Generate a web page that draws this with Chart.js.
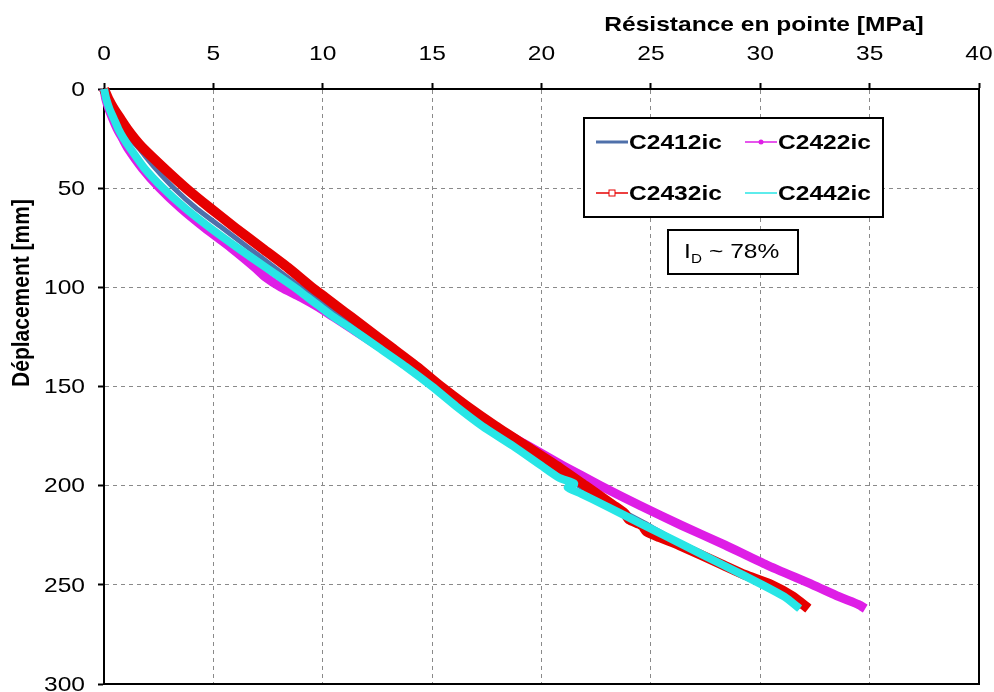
<!DOCTYPE html>
<html>
<head>
<meta charset="utf-8">
<script src="https://cdn.jsdelivr.net/npm/chart.js@4.4.1/dist/chart.umd.min.js"></script>
<style>
    html, body { margin: 0; padding: 0; background: #fff; }
    #wrap { width: 994px; height: 692px; }
</style>
</head>
<body>
<div id="wrap"><canvas id="penetro" width="994" height="692"></canvas></div>
<script>
// Déplacement [mm] / résistance en pointe [MPa]
const c2412Depth = [0, 5, 10, 15, 20, 25, 30, 40, 50, 60, 70, 80, 90, 100, 105, 110, 115, 120, 130, 140, 150, 160, 170, 180, 190, 200, 210, 220, 230, 240, 250, 256, 262];
const c2412Qc    = [0, 0.12, 0.32, 0.55, 0.85, 1.2, 1.6, 2.35, 3.2, 4.2, 5.4, 6.6, 7.8, 9.0, 9.7, 10.3, 10.9, 11.5, 12.8, 14.0, 15.2, 16.4, 17.6, 19.0, 20.4, 21.7, 23.2, 24.9, 26.5, 28.4, 30.3, 31.2, 31.8];

const c2422Depth = [0, 2, 5, 10, 15, 20, 25, 30, 40, 50, 60, 70, 80, 90, 95, 100, 105, 110, 115, 120, 130, 140, 150, 160, 170, 180, 190, 200, 210, 220, 230, 240, 250, 256, 260, 262];
const c2422Qc    = [0, 0.03, 0.08, 0.22, 0.4, 0.6, 0.85, 1.1, 1.75, 2.55, 3.5, 4.6, 5.8, 6.9, 7.4, 8.1, 9.0, 9.8, 10.5, 11.2, 12.6, 13.9, 15.1, 16.4, 17.8, 19.4, 21.0, 22.7, 24.5, 26.4, 28.4, 30.3, 32.4, 33.6, 34.5, 34.8];

const c2432Depth = [0, 2, 5, 10, 15, 20, 25, 30, 40, 50, 60, 70, 80, 90, 100, 105, 110, 115, 120, 130, 140, 150, 160, 170, 180, 190, 200, 210, 214, 217, 220, 223, 226, 230, 240, 245, 250, 256, 262];
const c2432Qc    = [0, 0.08, 0.2, 0.45, 0.75, 1.05, 1.4, 1.8, 2.75, 3.75, 4.85, 6.0, 7.2, 8.4, 9.5, 10.1, 10.7, 11.3, 11.9, 13.1, 14.3, 15.4, 16.6, 17.9, 19.3, 20.7, 22.0, 23.3, 23.8, 24.0, 24.6, 24.8, 25.4, 26.3, 28.3, 29.3, 30.5, 31.5, 32.2];

const c2442Depth = [0, 2, 5, 10, 15, 20, 25, 30, 40, 50, 60, 70, 80, 90, 100, 105, 110, 115, 120, 130, 140, 150, 160, 170, 180, 190, 196, 199, 201, 204, 210, 220, 230, 240, 250, 256, 262];
const c2442Qc    = [0, 0.04, 0.1, 0.25, 0.45, 0.65, 0.9, 1.2, 1.85, 2.7, 3.7, 4.85, 6.1, 7.4, 8.7, 9.3, 9.9, 10.5, 11.2, 12.5, 13.8, 15.0, 16.1, 17.3, 18.7, 20.0, 20.8, 21.5, 21.2, 21.8, 22.9, 24.7, 26.5, 28.3, 30.1, 31.1, 31.8];

const xTicks = [0, 5, 10, 15, 20, 25, 30, 35, 40];
const yTicks = [0, 50, 100, 150, 200, 250, 300];

const seriesNames = ["C2412ic", "C2422ic", "C2432ic", "C2442ic"];
const seriesColors = ["rgb(79, 112, 170)", "rgb(222, 30, 230)", "rgb(230, 0, 0)", "rgb(40, 230, 230)"];

const FONT = "'Liberation Sans', Arial, sans-serif";
// the original picture is stretched sideways, text included
const STRETCH = 1.17;

function toPoints(depths, qcs) {
    return depths.map((d, i) => ({ x: qcs[i], y: d }));
}

function wideText(ctx, text, x, y, align) {
    ctx.save();
    ctx.translate(x, y);
    ctx.scale(STRETCH, 1);
    ctx.textAlign = align;
    ctx.fillText(text, 0, 0);
    ctx.restore();
}

// Frame on the right and bottom, tick labels, titles, legend box and I_D label
const decorations = {
    id: "decorations",
    beforeDatasetsDraw(chart) {
        const { ctx, chartArea: a } = chart;
        ctx.save();
        ctx.strokeStyle = "#000";
        ctx.lineWidth = 2;
        ctx.beginPath();
        ctx.moveTo(a.left, a.bottom);
        ctx.lineTo(a.right, a.bottom);
        ctx.lineTo(a.right, a.top);
        ctx.stroke();
        ctx.restore();
    },
    afterDraw(chart) {
        const ctx = chart.ctx;
        const xs = chart.scales.x;
        const ys = chart.scales.y;
        ctx.save();
        ctx.fillStyle = "#000";
        ctx.textBaseline = "middle";

        // tick labels, placed with the chart's own scales
        ctx.font = "21px " + FONT;
        xTicks.forEach(v => wideText(ctx, String(v), xs.getPixelForValue(v), 54, "center"));
        yTicks.forEach(v => wideText(ctx, String(v), 85, ys.getPixelForValue(v) + 1, "right"));

        // axis titles
        ctx.font = "bold 21px " + FONT;
        wideText(ctx, "Résistance en pointe [MPa]", 764, 25, "center");

        ctx.save();
        ctx.translate(22, 293);
        ctx.rotate(-Math.PI / 2);
        ctx.scale(1, STRETCH);
        ctx.textAlign = "center";
        ctx.fillText("Déplacement [mm]", 0, 0);
        ctx.restore();

        // legend box
        ctx.fillStyle = "#fff";
        ctx.fillRect(584, 118, 299, 99);
        ctx.strokeStyle = "#000";
        ctx.lineWidth = 2;
        ctx.strokeRect(584, 118, 299, 99);

        const cells = [
            { x: 596, y: 142 }, { x: 745, y: 142 },
            { x: 596, y: 193 }, { x: 745, y: 193 }
        ];
        cells.forEach((c, i) => {
            ctx.strokeStyle = seriesColors[i];
            ctx.lineWidth = i === 0 ? 3 : 1.5;
            ctx.beginPath();
            ctx.moveTo(c.x, c.y);
            ctx.lineTo(c.x + 32, c.y);
            ctx.stroke();
            if (i === 1) {
                ctx.fillStyle = seriesColors[i];
                ctx.beginPath();
                ctx.arc(c.x + 16, c.y, 2.5, 0, Math.PI * 2);
                ctx.fill();
            }
            if (i === 2) {
                ctx.fillStyle = "#fff";
                ctx.fillRect(c.x + 13, c.y - 3, 6, 6);
                ctx.lineWidth = 1;
                ctx.strokeRect(c.x + 13, c.y - 3, 6, 6);
            }
            ctx.fillStyle = "#000";
            ctx.font = "bold 21px " + FONT;
            wideText(ctx, seriesNames[i], c.x + 33, c.y + 1, "left");
        });

        // I_D box
        ctx.fillStyle = "#fff";
        ctx.fillRect(668, 230, 130, 44);
        ctx.strokeStyle = "#000";
        ctx.lineWidth = 2;
        ctx.strokeRect(668, 230, 130, 44);
        ctx.fillStyle = "#000";
        ctx.font = "21px " + FONT;
        wideText(ctx, "I", 684, 252, "left");
        ctx.font = "13px " + FONT;
        wideText(ctx, "D", 691, 259, "left");
        ctx.font = "21px " + FONT;
        wideText(ctx, "~ 78%", 709, 252, "left");

        ctx.restore();
    }
};

const ctx = document.getElementById("penetro").getContext("2d");

new Chart(ctx, {
    type: "scatter",
    data: {
        datasets: [
            {
                label: seriesNames[0],
                data: toPoints(c2412Depth, c2412Qc),
                borderColor: seriesColors[0],
                borderWidth: 5,
                order: 2
            },
            {
                label: seriesNames[1],
                data: toPoints(c2422Depth, c2422Qc),
                borderColor: seriesColors[1],
                borderWidth: 9,
                order: 3
            },
            {
                label: seriesNames[2],
                data: toPoints(c2432Depth, c2432Qc),
                borderColor: seriesColors[2],
                borderWidth: 10,
                order: 1
            },
            {
                label: seriesNames[3],
                data: toPoints(c2442Depth, c2442Qc),
                borderColor: seriesColors[3],
                borderWidth: 8,
                order: 0
            }
        ].map(ds => Object.assign(ds, {
            showLine: true,
            pointRadius: 0,
            tension: 0.2,
            fill: false,
            clip: 10
        }))
    },
    options: {
        responsive: false,
        animation: false,
        layout: {
            padding: { left: 0, top: 0, right: 15, bottom: 8 }
        },
        scales: {
            x: {
                type: "linear",
                position: "top",
                min: 0,
                max: 40,
                afterBuildTicks: scale => { scale.ticks = xTicks.map(v => ({ value: v })); },
                afterFit: scale => { scale.height = 89; },
                ticks: { display: false },
                grid: {
                    color: "#8a8a8a",
                    lineWidth: 1,
                    tickLength: 6,
                    tickColor: "#000",
                    tickWidth: 2
                },
                border: { color: "#000", width: 2, dash: [4, 4] }
            },
            y: {
                type: "linear",
                reverse: true,
                min: 0,
                max: 300,
                afterBuildTicks: scale => { scale.ticks = yTicks.map(v => ({ value: v })); },
                afterFit: scale => { scale.width = 104; },
                ticks: { display: false },
                grid: {
                    color: "#8a8a8a",
                    lineWidth: 1,
                    tickLength: 6,
                    tickColor: "#000",
                    tickWidth: 2
                },
                border: { color: "#000", width: 2, dash: [4, 4] }
            }
        },
        plugins: {
            legend: { display: false },
            tooltip: { enabled: false }
        }
    },
    plugins: [decorations]
});
</script>
</body>
</html>
